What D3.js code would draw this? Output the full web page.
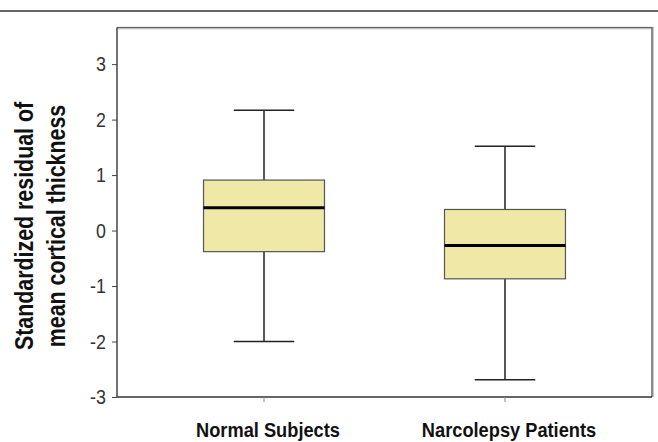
<!DOCTYPE html>
<html><head><meta charset="utf-8">
<script src="https://cdn.jsdelivr.net/npm/d3@7"></script>
<style>
html,body{margin:0;padding:0;background:#fff;}
text{font-family:"Liberation Sans",Arial,sans-serif;}
</style></head>
<body>
<svg id="chart" width="658" height="442"></svg>
<script>
const categories = ["Normal Subjects", "Narcolepsy Patients"];
const whiskerLow = [-2.00, -2.69];
const q1 = [-0.38, -0.87];
const median = [0.41, -0.27];
const q3 = [0.91, 0.38];
const whiskerHigh = [2.17, 1.52];
const yTicks = [-3, -2, -1, 0, 1, 2, 3];
const yTickLabels = ["-3", "-2", "-1", "0", "1", "2", "3"];
const yTitle = ["Standardized residual of", "mean cortical thickness"];

const svg = d3.select("#chart");
const L = 117, R = 652, T = 27.5, B = 397;

const x = d3.scaleBand().domain(categories).range([L, R]).paddingInner(0.498).paddingOuter(0.359);
const y = d3.scaleLinear().domain([-3, 3.66]).range([B, T]);

function condense(sel, k) {
  sel.each(function () {
    const n = this.getComputedTextLength();
    d3.select(this).attr("textLength", n * k).attr("lengthAdjust", "spacingAndGlyphs");
  });
}

// top rule
svg.append("line").attr("x1", 0).attr("x2", 658).attr("y1", 11).attr("y2", 11)
  .attr("stroke", "#666").attr("stroke-width", 2.2);

// frame shadow + frame
svg.append("path").attr("d", `M${L},${T + 0.5}H${R + 0.5}V${B}`)
  .attr("fill", "none").attr("stroke", "#bbb").attr("stroke-width", 2.5);
svg.append("path").attr("d", `M${L},${T}H${R}V${B}`)
  .attr("fill", "none").attr("stroke", "#666").attr("stroke-width", 1.2);

// boxes
const g = svg.append("g");
categories.forEach((c, i) => {
  const x0 = x(c), bw = x.bandwidth(), cx = x0 + bw / 2, cw = bw / 2;
  g.append("line").attr("x1", cx).attr("x2", cx).attr("y1", y(whiskerHigh[i])).attr("y2", y(q3[i]))
    .attr("stroke", "#222").attr("stroke-width", 1.5);
  g.append("line").attr("x1", cx).attr("x2", cx).attr("y1", y(q1[i])).attr("y2", y(whiskerLow[i]))
    .attr("stroke", "#222").attr("stroke-width", 1.5);
  g.append("line").attr("x1", cx - cw / 2).attr("x2", cx + cw / 2).attr("y1", y(whiskerHigh[i])).attr("y2", y(whiskerHigh[i]))
    .attr("stroke", "#222").attr("stroke-width", 1.5);
  g.append("line").attr("x1", cx - cw / 2).attr("x2", cx + cw / 2).attr("y1", y(whiskerLow[i])).attr("y2", y(whiskerLow[i]))
    .attr("stroke", "#222").attr("stroke-width", 1.5);
  g.append("rect").attr("x", x0).attr("width", bw).attr("y", y(q3[i])).attr("height", y(q1[i]) - y(q3[i]))
    .attr("fill", "#efe8a6").attr("stroke", "#555").attr("stroke-width", 1.2);
  g.append("line").attr("x1", x0).attr("x2", x0 + bw).attr("y1", y(median[i])).attr("y2", y(median[i]))
    .attr("stroke", "#000").attr("stroke-width", 3);
});

// y axis
const ya = svg.append("g").attr("transform", `translate(${L},0)`)
  .call(d3.axisLeft(y).tickValues(yTicks).tickFormat((d, i) => yTickLabels[i]).tickSize(5).tickSizeOuter(0).tickPadding(6));
ya.select(".domain").attr("stroke", "#444").attr("stroke-width", 1.5).attr("d", `M0,${T}V${B}`);
ya.selectAll(".tick line").attr("stroke", "#444");
ya.selectAll(".tick text").attr("font-size", 21).attr("fill", "#333").attr("x", -11)
  .attr("font-family", "'Liberation Sans',Arial,sans-serif").call(condense, 0.85);

// x axis
const xa = svg.append("g").attr("transform", `translate(0,${B})`)
  .call(d3.axisBottom(x).tickSize(5).tickSizeOuter(0).tickPadding(22));
xa.select(".domain").attr("stroke", "#333").attr("stroke-width", 1.5).attr("d", `M${L},0H${R}`);
xa.selectAll(".tick line").attr("stroke", "#888");
xa.selectAll(".tick text").attr("font-size", 19.5).attr("font-weight", "bold").attr("fill", "#111")
  .attr("font-family", "'Liberation Sans',Arial,sans-serif")
  .attr("dy", 0).attr("y", 39.7).attr("dx", 4).call(condense, 0.935);

// y title
const yt = svg.append("g");
yTitle.forEach((t, i) => {
  yt.append("text").attr("transform", "rotate(-90)").attr("x", -226).attr("y", i === 0 ? 33 : 65)
    .attr("text-anchor", "middle").attr("font-size", 25).attr("font-weight", "bold").attr("fill", "#111")
    .text(t).call(condense, 0.855);
});
</script>
</body></html>
